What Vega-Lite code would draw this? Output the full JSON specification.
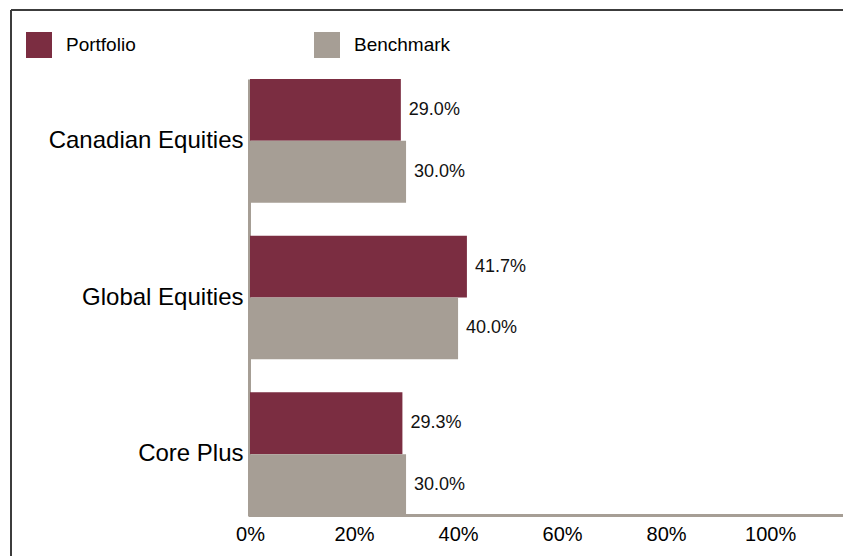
{
  "$schema": "https://vega.github.io/schema/vega-lite/v6.json",
  "width": 832,
  "height": 546,
  "autosize": {"type": "none"},
  "padding": {"left": 11, "top": 10, "right": 0, "bottom": 0},
  "background": "white",
  "config": {
    "view": {"stroke": "#3c3c3c", "strokeWidth": 2, "strokeDash": [832, 1378, 546, 0]},
    "font": "Liberation Sans, Arial, sans-serif"
  },
  "data": {
    "values": [
      {"category": "Canadian Equities", "series": "Portfolio", "value": 0.290},
      {"category": "Canadian Equities", "series": "Benchmark", "value": 0.300},
      {"category": "Global Equities", "series": "Portfolio", "value": 0.417},
      {"category": "Global Equities", "series": "Benchmark", "value": 0.400},
      {"category": "Core Plus", "series": "Portfolio", "value": 0.293},
      {"category": "Core Plus", "series": "Benchmark", "value": 0.300}
    ]
  },
  "encoding": {
    "y": {
      "field": "category",
      "type": "nominal",
      "sort": ["Canadian Equities", "Global Equities", "Core Plus"],
      "scale": {"range": [69, 506], "paddingInner": 0.21, "paddingOuter": 0},
      "axis": {
        "orient": "left",
        "offset": -238,
        "title": null,
        "ticks": false,
        "domainColor": "#a69e95",
        "domainWidth": 3,
        "labelFontSize": 24,
        "labelPadding": 6,
        "labelColor": "#000000",
        "labelLimit": 400
      }
    },
    "yOffset": {
      "field": "series",
      "sort": ["Portfolio", "Benchmark"],
      "scale": {"paddingInner": 0, "paddingOuter": 0}
    },
    "x": {
      "field": "value",
      "type": "quantitative",
      "scale": {"domain": [0, 1.14], "range": [239, 832], "nice": false},
      "axis": {
        "orient": "bottom",
        "offset": -41,
        "title": null,
        "values": [0, 0.2, 0.4, 0.6, 0.8, 1.0],
        "format": "%",
        "ticks": false,
        "grid": false,
        "domainColor": "#a69e95",
        "domainWidth": 3,
        "domainCap": "square",
        "labelFontSize": 20,
        "labelPadding": 9,
        "labelColor": "#000000",
        "labelFlush": false
      }
    }
  },
  "layer": [
    {
      "mark": {"type": "bar"},
      "encoding": {
        "color": {
          "field": "series",
          "type": "nominal",
          "scale": {"domain": ["Portfolio", "Benchmark"], "range": ["#7b2d41", "#a69e95"]},
          "legend": {
            "orient": "none",
            "legendX": 15,
            "legendY": 22,
            "direction": "horizontal",
            "columns": 2,
            "title": null,
            "symbolType": "square",
            "symbolSize": 676,
            "symbolStrokeWidth": 0,
            "symbolOpacity": 1,
            "labelFontSize": 19,
            "labelOffset": 14,
            "columnPadding": 178,
            "padding": 0,
            "labelColor": "#000000"
          }
        }
      }
    },
    {
      "mark": {"type": "text", "align": "left", "baseline": "middle", "dx": 8, "fontSize": 18, "color": "#111111"},
      "encoding": {
        "text": {"field": "value", "type": "quantitative", "format": ".1%"}
      }
    }
  ]
}
